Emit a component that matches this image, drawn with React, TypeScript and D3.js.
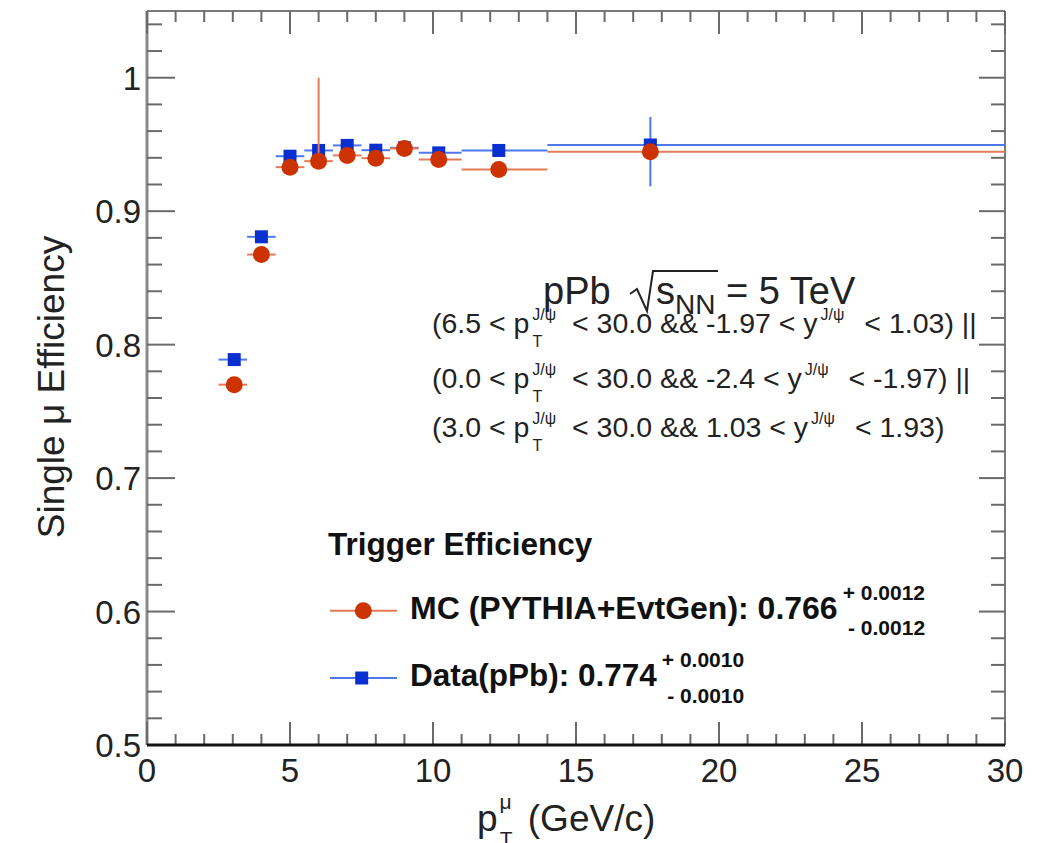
import React from "react";
import * as d3 from "d3";

// ---------- data ----------
const binCenters = [3.05, 4.0, 5.0, 6.0, 7.0, 8.0, 9.0, 10.2, 12.3, 17.6];
const binLow = [2.5, 3.5, 4.5, 5.5, 6.5, 7.5, 8.5, 9.5, 11, 14];
const binHigh = [3.5, 4.5, 5.5, 6.5, 7.5, 8.5, 9.5, 11, 14, 30];

const mcEff = [0.770, 0.8675, 0.933, 0.9375, 0.9418, 0.9397, 0.947, 0.9388, 0.9313, 0.9446];
const mcErrUp = [0.002, 0.002, 0.002, 0.0625, 0.002, 0.002, 0.002, 0.002, 0.002, 0.002];
const mcErrDown = [0.002, 0.002, 0.002, 0.004, 0.002, 0.002, 0.002, 0.002, 0.002, 0.002];

const dataEff = [0.7888, 0.8808, 0.9412, 0.9455, 0.9493, 0.9457, 0.9475, 0.9437, 0.9455, 0.9496];
const dataErrUp = [0.002, 0.002, 0.002, 0.002, 0.002, 0.002, 0.002, 0.002, 0.002, 0.021];
const dataErrDown = [0.002, 0.002, 0.002, 0.002, 0.002, 0.002, 0.002, 0.002, 0.002, 0.031];

const xMajorTicks = [0, 5, 10, 15, 20, 25, 30];
const xTickLabels = ["0", "5", "10", "15", "20", "25", "30"];
const yMajorTicks = [0.5, 0.6, 0.7, 0.8, 0.9, 1.0];
const yTickLabels = ["0.5", "0.6", "0.7", "0.8", "0.9", "1"];

const mcLabel = "MC (PYTHIA+EvtGen): 0.766";
const mcSup = "+ 0.0012";
const mcSub = "- 0.0012";
const dataLabel = "Data(pPb): 0.774";
const dataSup = "+ 0.0010";
const dataSub = "- 0.0010";

const conditionLines = [
  ["(6.5 < p", " < 30.0 && -1.97 < y", " < 1.03) ||"],
  ["(0.0 < p", " < 30.0 && -2.4 < y", " < -1.97) ||"],
  ["(3.0 < p", " < 30.0 && 1.03 < y", " < 1.93)"],
];

// ---------- style ----------
const W = 1039;
const H = 843;
const FONT = "'Liberation Sans', Arial, Helvetica, sans-serif";
const RED = "#cc3300";
const RED_LINE = "#e57a58";
const BLUE = "#0a2fd0";
const BLUE_LINE = "#4f78ee";
const FRAME = "#7a7a7a";
const TICK = "#6a6a6a";

export default function App() {
  const x = d3.scaleLinear().domain([0, 30]).range([147, 1005]);
  const y = d3.scaleLinear().domain([0.5, 1.05]).range([745, 11]);

  const xMinor = d3.range(0, 30.001, 1).filter((v) => v % 5 !== 0);
  const yMinor = d3
    .range(0, 28)
    .map((i) => 0.5 + i * 0.02)
    .filter((v) => Math.abs(v * 10 - Math.round(v * 10)) > 1e-6 && v < 1.05);

  const x0 = x(0), x1 = x(30), y0 = y(0.5), y1 = y(1.05);

  const series = (eff: number[], up: number[], down: number[], lineColor: string, lw: number) =>
    eff.map((v, i) => (
      <g key={i}>
        <line x1={x(binLow[i])} x2={x(binHigh[i])} y1={y(v)} y2={y(v)} stroke={lineColor} strokeWidth={lw} />
        <line x1={x(binCenters[i])} x2={x(binCenters[i])} y1={y(v + up[i])} y2={y(v - down[i])} stroke={lineColor} strokeWidth={lw} />
      </g>
    ));

  const condBaselines = [333, 388, 437];

  return (
    <svg width={W} height={H} style={{ position: "absolute", left: 0, top: 0, background: "#fff" }} fontFamily={FONT}>
      <rect x={0} y={0} width={W} height={H} fill="#fff" />

      {/* frame */}
      <line x1={x0} x2={x1} y1={y1} y2={y1} stroke={FRAME} strokeWidth={2} />
      <line x1={x1} x2={x1} y1={y1} y2={y0} stroke={FRAME} strokeWidth={2} />
      <line x1={x0} x2={x0} y1={y1} y2={y0} stroke="#8a8a8a" strokeWidth={3} />

      {/* x ticks (bottom & top) */}
      {xMajorTicks.map((v) => (
        <g key={"xm" + v}>
          <line x1={x(v)} x2={x(v)} y1={y0} y2={y0 - 23} stroke={TICK} strokeWidth={2} />
          <line x1={x(v)} x2={x(v)} y1={y1} y2={y1 + 23} stroke={TICK} strokeWidth={2} />
        </g>
      ))}
      {xMinor.map((v) => (
        <g key={"xn" + v}>
          <line x1={x(v)} x2={x(v)} y1={y0} y2={y0 - 11} stroke={TICK} strokeWidth={2} />
          <line x1={x(v)} x2={x(v)} y1={y1} y2={y1 + 11} stroke={TICK} strokeWidth={2} />
        </g>
      ))}
      {/* y ticks (left & right) */}
      {yMajorTicks.map((v) => (
        <g key={"ym" + v}>
          <line x1={x0} x2={x0 + 28} y1={y(v)} y2={y(v)} stroke={TICK} strokeWidth={2} />
          <line x1={x1} x2={x1 - 26} y1={y(v)} y2={y(v)} stroke={TICK} strokeWidth={2} />
        </g>
      ))}
      {yMinor.map((v) => (
        <g key={"yn" + v}>
          <line x1={x0} x2={x0 + 15} y1={y(v)} y2={y(v)} stroke={TICK} strokeWidth={2} />
          <line x1={x1} x2={x1 - 14} y1={y(v)} y2={y(v)} stroke={TICK} strokeWidth={2} />
        </g>
      ))}
      <line x1={x0} x2={x1} y1={y0} y2={y0} stroke="#151515" strokeWidth={3} />

      {/* tick labels */}
      {yMajorTicks.map((v, i) => (
        <text key={"yl" + v} x={141} y={y(v) + 12} fontSize={33} textAnchor="end" fill="#222">
          {yTickLabels[i]}
        </text>
      ))}
      {xMajorTicks.map((v, i) => (
        <text key={"xl" + v} x={x(v)} y={782} fontSize={33} textAnchor="middle" fill="#222">
          {xTickLabels[i]}
        </text>
      ))}

      {/* axis titles */}
      <text transform="translate(64,387) rotate(-90)" fontSize={37} textAnchor="middle" fill="#222">
        Single μ Efficiency
      </text>
      <text x={477} y={831} fontSize={37} fill="#222">
        p
        <tspan fontSize={21} dx={2} dy={-22}>μ</tspan>
        <tspan fontSize={21} dx={-12} dy={37}>T</tspan>
        <tspan fontSize={37} dx={5} dy={-15}>{" (GeV/c)"}</tspan>
      </text>

      {/* data: blue first, red on top */}
      {series(dataEff, dataErrUp, dataErrDown, BLUE_LINE, 2)}
      {dataEff.map((v, i) => (
        <rect key={"ds" + i} x={x(binCenters[i]) - 6.5} y={y(v) - 6.5} width={13} height={13} fill={BLUE} />
      ))}
      {series(mcEff, mcErrUp, mcErrDown, RED_LINE, 2)}
      {mcEff.map((v, i) => (
        <circle key={"mc" + i} cx={x(binCenters[i])} cy={y(v)} r={8.5} fill={RED} />
      ))}

      {/* annotation */}
      <text x={543} y={304} fontSize={38} fill="#222">pPb</text>
      <path d="M630,294 L637,289 L647,311 L653,271 L718,271" fill="none" stroke="#222" strokeWidth={2} />
      <text x={656} y={304} fontSize={38} fill="#222">
        s<tspan fontSize={28} dy={10}>NN</tspan>
        <tspan dy={-10}>{" = 5 TeV"}</tspan>
      </text>

      {conditionLines.map(([a, b, c], k) => (
        <text key={k} x={432} y={condBaselines[k]} fontSize={28.5} fill="#222">
          {a}
          <tspan fontSize={16} dx={3} dy={14}>T</tspan>
          <tspan fontSize={16} dx={-10} dy={-27}>J/ψ</tspan>
          <tspan fontSize={28.5} dx={8} dy={13}>{b}</tspan>
          <tspan fontSize={16} dx={3} dy={-13}>J/ψ</tspan>
          <tspan fontSize={28.5} dx={12} dy={13}>{c}</tspan>
        </text>
      ))}

      {/* legend */}
      <text x={328} y={555} fontSize={31.5} fontWeight="bold" fill="#111">Trigger Efficiency</text>

      <line x1={330} x2={397} y1={610.7} y2={610.7} stroke={RED_LINE} strokeWidth={2} />
      <circle cx={363.3} cy={610.7} r={8.5} fill={RED} />
      <text x={410} y={619} fontSize={32} fontWeight="bold" fill="#111">
        {mcLabel}
        <tspan fontSize={21} dx={5} dy={-19}>{mcSup}</tspan>
        <tspan fontSize={21} dx={-77} dy={35}>{mcSub}</tspan>
      </text>

      <line x1={330} x2={397} y1={678} y2={678} stroke={BLUE_LINE} strokeWidth={2} />
      <rect x={361.7 - 6.5} y={678 - 6.5} width={13} height={13} fill={BLUE} />
      <text x={410} y={686} fontSize={31.5} fontWeight="bold" fill="#111">
        {dataLabel}
        <tspan fontSize={21} dx={5} dy={-19}>{dataSup}</tspan>
        <tspan fontSize={21} dx={-77} dy={36}>{dataSub}</tspan>
      </text>
    </svg>
  );
}
